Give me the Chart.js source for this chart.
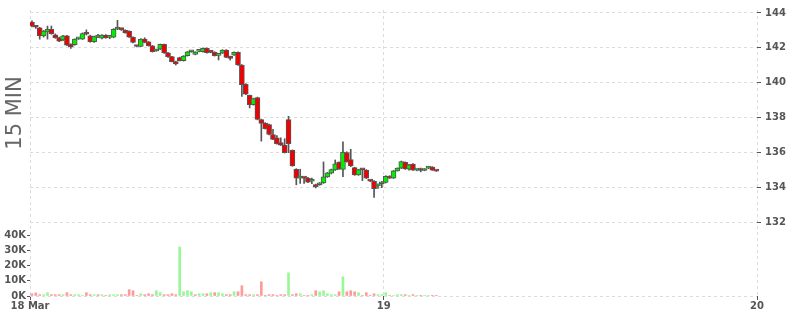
<!DOCTYPE html>
<html>
<head>
<meta charset="utf-8">
<script src="https://cdn.jsdelivr.net/npm/chart.js@4.4.1/dist/chart.umd.min.js"></script>
<style>
  html, body { margin: 0; padding: 0; background: #fff; }
  #wrap { width: 800px; height: 315px; position: relative; }
</style>
</head>
<body>
<div id="wrap"><canvas id="chart"></canvas></div>
<script>
// 15 min candles, 18 Mar from ~01:15, hours since 18 Mar 00:00
var startHour = 1.25;
var stepHours = 0.25;

var opens = [143.48,143.24,143.15,142.69,142.92,143.07,142.75,142.58,142.45,142.69,
  142.20,142.18,142.52,142.50,142.80,142.69,142.35,142.62,142.56,142.73,
  142.60,142.62,143.08,143.06,143.00,142.96,142.62,142.09,142.09,142.50,
  142.35,142.12,141.82,141.93,142.20,141.72,141.50,141.21,141.44,141.27,
  141.55,141.78,141.63,141.80,141.78,141.97,141.75,141.75,141.57,141.70,
  141.88,141.50,141.59,141.75,141.02,139.92,139.28,138.75,139.16,137.90,
  137.70,137.61,137.04,136.85,136.57,136.43,137.90,136.13,135.05,134.54,
  134.55,134.54,134.36,134.16,134.16,134.27,134.61,134.82,135.01,135.45,
  135.04,136.01,135.60,135.14,134.73,135.03,135.00,134.38,134.36,134.10,
  134.22,134.30,134.65,134.54,134.96,135.11,135.45,135.05,135.34,135.00,
  135.00,134.98,135.11,135.18,134.95];
var highs = [143.55,143.28,143.18,143.00,143.25,143.25,142.80,142.62,142.72,142.72,
  142.24,142.52,142.58,142.86,143.03,142.73,142.68,142.77,142.76,142.76,
  142.70,143.10,143.58,143.10,143.04,142.98,142.64,142.12,142.53,142.58,
  142.37,142.14,141.93,142.22,142.22,141.75,141.52,141.24,141.47,141.56,
  141.80,141.85,141.78,141.84,142.00,142.00,141.78,141.78,141.60,141.90,
  141.90,141.53,141.77,141.78,141.05,139.95,139.30,139.12,139.18,137.92,
  137.72,137.64,137.33,136.98,136.85,136.80,138.08,136.16,135.08,135.05,
  134.58,134.58,134.54,134.20,134.29,135.47,134.87,135.06,135.58,135.48,
  136.62,136.04,136.19,135.17,135.05,135.06,135.03,134.42,134.40,134.20,
  134.36,134.68,134.68,134.98,135.13,135.52,135.48,135.33,135.37,135.04,
  135.12,135.08,135.22,135.20,134.96];
var lows = [143.20,143.12,142.50,142.62,142.50,142.78,142.55,142.36,142.42,142.12,
  141.97,142.15,142.48,142.48,142.74,142.32,142.32,142.58,142.52,142.55,
  142.52,142.58,143.04,143.00,142.84,142.60,142.29,142.06,142.07,142.29,
  142.10,141.76,141.80,141.90,141.69,141.46,141.19,141.02,141.25,141.24,
  141.53,141.75,141.60,141.77,141.76,141.70,141.72,141.53,141.31,141.68,
  141.44,141.30,141.57,141.00,139.22,139.32,138.56,138.72,137.88,136.66,
  137.35,137.02,136.74,136.49,136.41,135.98,136.00,135.22,134.16,134.24,
  134.24,134.28,134.22,133.98,134.13,134.24,134.58,134.78,134.98,135.04,
  134.63,135.46,135.20,134.70,134.70,134.40,134.52,134.34,133.44,133.95,
  134.00,134.26,134.52,134.52,134.94,135.09,135.04,135.00,134.98,134.96,
  134.90,134.96,135.08,134.98,134.93];
var closes = [143.24,143.18,142.69,142.96,143.07,142.82,142.58,142.39,142.69,142.16,
  142.05,142.50,142.54,142.82,142.78,142.35,142.65,142.64,142.73,142.58,
  142.62,143.07,143.10,143.05,142.86,142.62,142.31,142.08,142.50,142.31,
  142.12,141.78,141.91,142.20,141.71,141.50,141.21,141.08,141.27,141.53,
  141.78,141.79,141.76,141.81,141.97,141.72,141.74,141.55,141.58,141.88,
  141.46,141.40,141.75,141.02,139.89,139.35,138.75,139.09,137.90,137.68,
  137.38,137.04,136.76,136.51,136.43,136.00,136.51,135.24,134.54,134.55,
  134.54,134.31,134.37,134.05,134.27,134.61,134.84,135.03,135.36,135.07,
  136.03,135.49,135.24,134.73,135.03,135.02,134.54,134.37,133.93,134.12,
  134.33,134.65,134.54,134.96,135.11,135.49,135.07,135.30,135.00,135.01,
  134.98,135.04,135.18,135.00,134.94];
// volume in thousands
var volumes = [1.5,2.0,0.9,0.9,2.2,0.9,0.9,0.9,0.9,2.2,
  0.9,0.9,0.9,0.2,2.2,0.9,0.9,0.9,0.9,0.4,
  0.9,0.9,0.9,0.9,0.9,4.2,3.5,0.4,1.5,0.9,
  1.5,0.9,3.5,2.2,0.9,0.9,1.5,0.9,32.4,2.8,
  3.5,2.8,0.9,1.5,1.5,1.5,2.2,2.2,2.2,1.5,
  0.9,0.9,2.8,2.8,6.8,0.9,0.9,0.9,0.9,9.4,
  0.2,0.9,0.9,0.4,0.9,0.9,15.3,0.9,1.5,1.5,
  0.4,0.4,0.9,3.5,2.8,3.5,1.5,0.9,0.9,2.8,
  12.7,2.8,3.5,2.8,2.2,0.4,2.2,0.4,1.5,0.9,
  0.9,2.2,0.4,0.4,0.9,0.9,0.9,0.4,0.9,0.2,
  0.2,0.2,0.2,0.2,0.2];

var priceTicks = [132, 134, 136, 138, 140, 142, 144];
var volTicks = [0, 10, 20, 30, 40];
var xTickValues = [1.25, 24, 48];
var xTickLabels = ['18 Mar', '19', '20'];

var upColor = '#00f000', downColor = '#f00000';
var volUp = '#99f799', volDown = '#ff9a9a';
var edge = '#555555';
var gridColor = '#dcdcdc';

function tPos(i) { return startHour + stepHours * (i + 0.5); }

var bodyData = opens.map(function (o, i) { return { x: tPos(i), y: [o, closes[i]] }; });
var wickData = opens.map(function (o, i) { return { x: tPos(i), y: [lows[i], highs[i]] }; });
var volData = volumes.map(function (v, i) { return { x: tPos(i), y: v }; });
var bodyColors = opens.map(function (o, i) { return closes[i] >= o ? upColor : downColor; });
var volColors = closes.map(function (c, i) {
  var prev = i > 0 ? closes[i - 1] : opens[0];
  return c >= prev ? volUp : volDown;
});

var tickFont = { family: 'DejaVu Sans', size: 10, weight: 'bold' };

var sideLabel = {
  id: 'sideLabel',
  afterDraw: function (chart) {
    var ctx = chart.ctx;
    ctx.save();
    ctx.translate(16, 113);
    ctx.rotate(-Math.PI / 2);
    ctx.font = '21px "DejaVu Sans"';
    ctx.fillStyle = '#666';
    ctx.textAlign = 'center';
    ctx.textBaseline = 'middle';
    ctx.fillText('15 MIN', 0, 0);
    ctx.restore();
  }
};

new Chart(document.getElementById('chart'), {
  type: 'bar',
  data: {
    datasets: [
      {
        label: 'body',
        data: bodyData,
        yAxisID: 'y',
        backgroundColor: bodyColors,
        borderColor: edge,
        borderWidth: 1,
        borderSkipped: false,
        barThickness: 5,
        minBarLength: 2,
        grouped: false,
        order: 0
      },
      {
        label: 'wick',
        data: wickData,
        yAxisID: 'y',
        backgroundColor: edge,
        borderWidth: 0,
        barThickness: 1,
        minBarLength: 1,
        grouped: false,
        order: 1
      },
      {
        label: 'volume',
        data: volData,
        yAxisID: 'yVol',
        backgroundColor: volColors,
        borderWidth: 0,
        barThickness: 2,
        grouped: false,
        order: 2
      }
    ]
  },
  options: {
    responsive: true,
    maintainAspectRatio: false,
    animation: false,
    layout: { padding: { top: 8, left: 0, right: 0, bottom: 0 } },
    plugins: { legend: { display: false }, tooltip: { enabled: false } },
    scales: {
      x: {
        type: 'linear',
        min: 1.25,
        max: 48,
        offset: false,
        afterBuildTicks: function (axis) { axis.ticks = xTickValues.map(function (v) { return { value: v }; }); },
        afterFit: function (axis) { axis.height = 19; },
        ticks: {
          autoSkip: false,
          maxRotation: 0,
          padding: 0,
          color: edge,
          font: tickFont,
          callback: function (v) { return xTickLabels[xTickValues.indexOf(v)]; }
        },
        grid: { offset: false, color: gridColor, tickColor: edge, tickLength: 4, tickBorderDash: [] },
        border: { display: false, dash: [3, 3] }
      },
      y: {
        position: 'right',
        min: 127.79,
        max: 144.17,
        afterBuildTicks: function (axis) { axis.ticks = priceTicks.map(function (v) { return { value: v }; }); },
        afterFit: function (axis) { axis.width = 43; },
        ticks: { color: edge, font: tickFont, padding: 4, callback: function (v) { return v; } },
        grid: { color: gridColor, tickColor: edge, tickLength: 4, tickBorderDash: [] },
        border: { display: false, dash: [3, 3] }
      },
      yVol: {
        position: 'left',
        min: 0,
        max: 189,
        afterBuildTicks: function (axis) { axis.ticks = volTicks.map(function (v) { return { value: v }; }); },
        afterFit: function (axis) { axis.width = 30; },
        ticks: { color: edge, font: tickFont, padding: 1, callback: function (v) { return v + 'K'; } },
        grid: {
          color: function (c) { return c.tick && c.tick.value === 0 ? gridColor : 'rgba(0,0,0,0)'; },
          tickColor: edge,
          tickLength: 3,
          tickBorderDash: []
        },
        border: { display: false, dash: [3, 3] }
      }
    }
  },
  plugins: [sideLabel]
});
</script>
</body>
</html>
